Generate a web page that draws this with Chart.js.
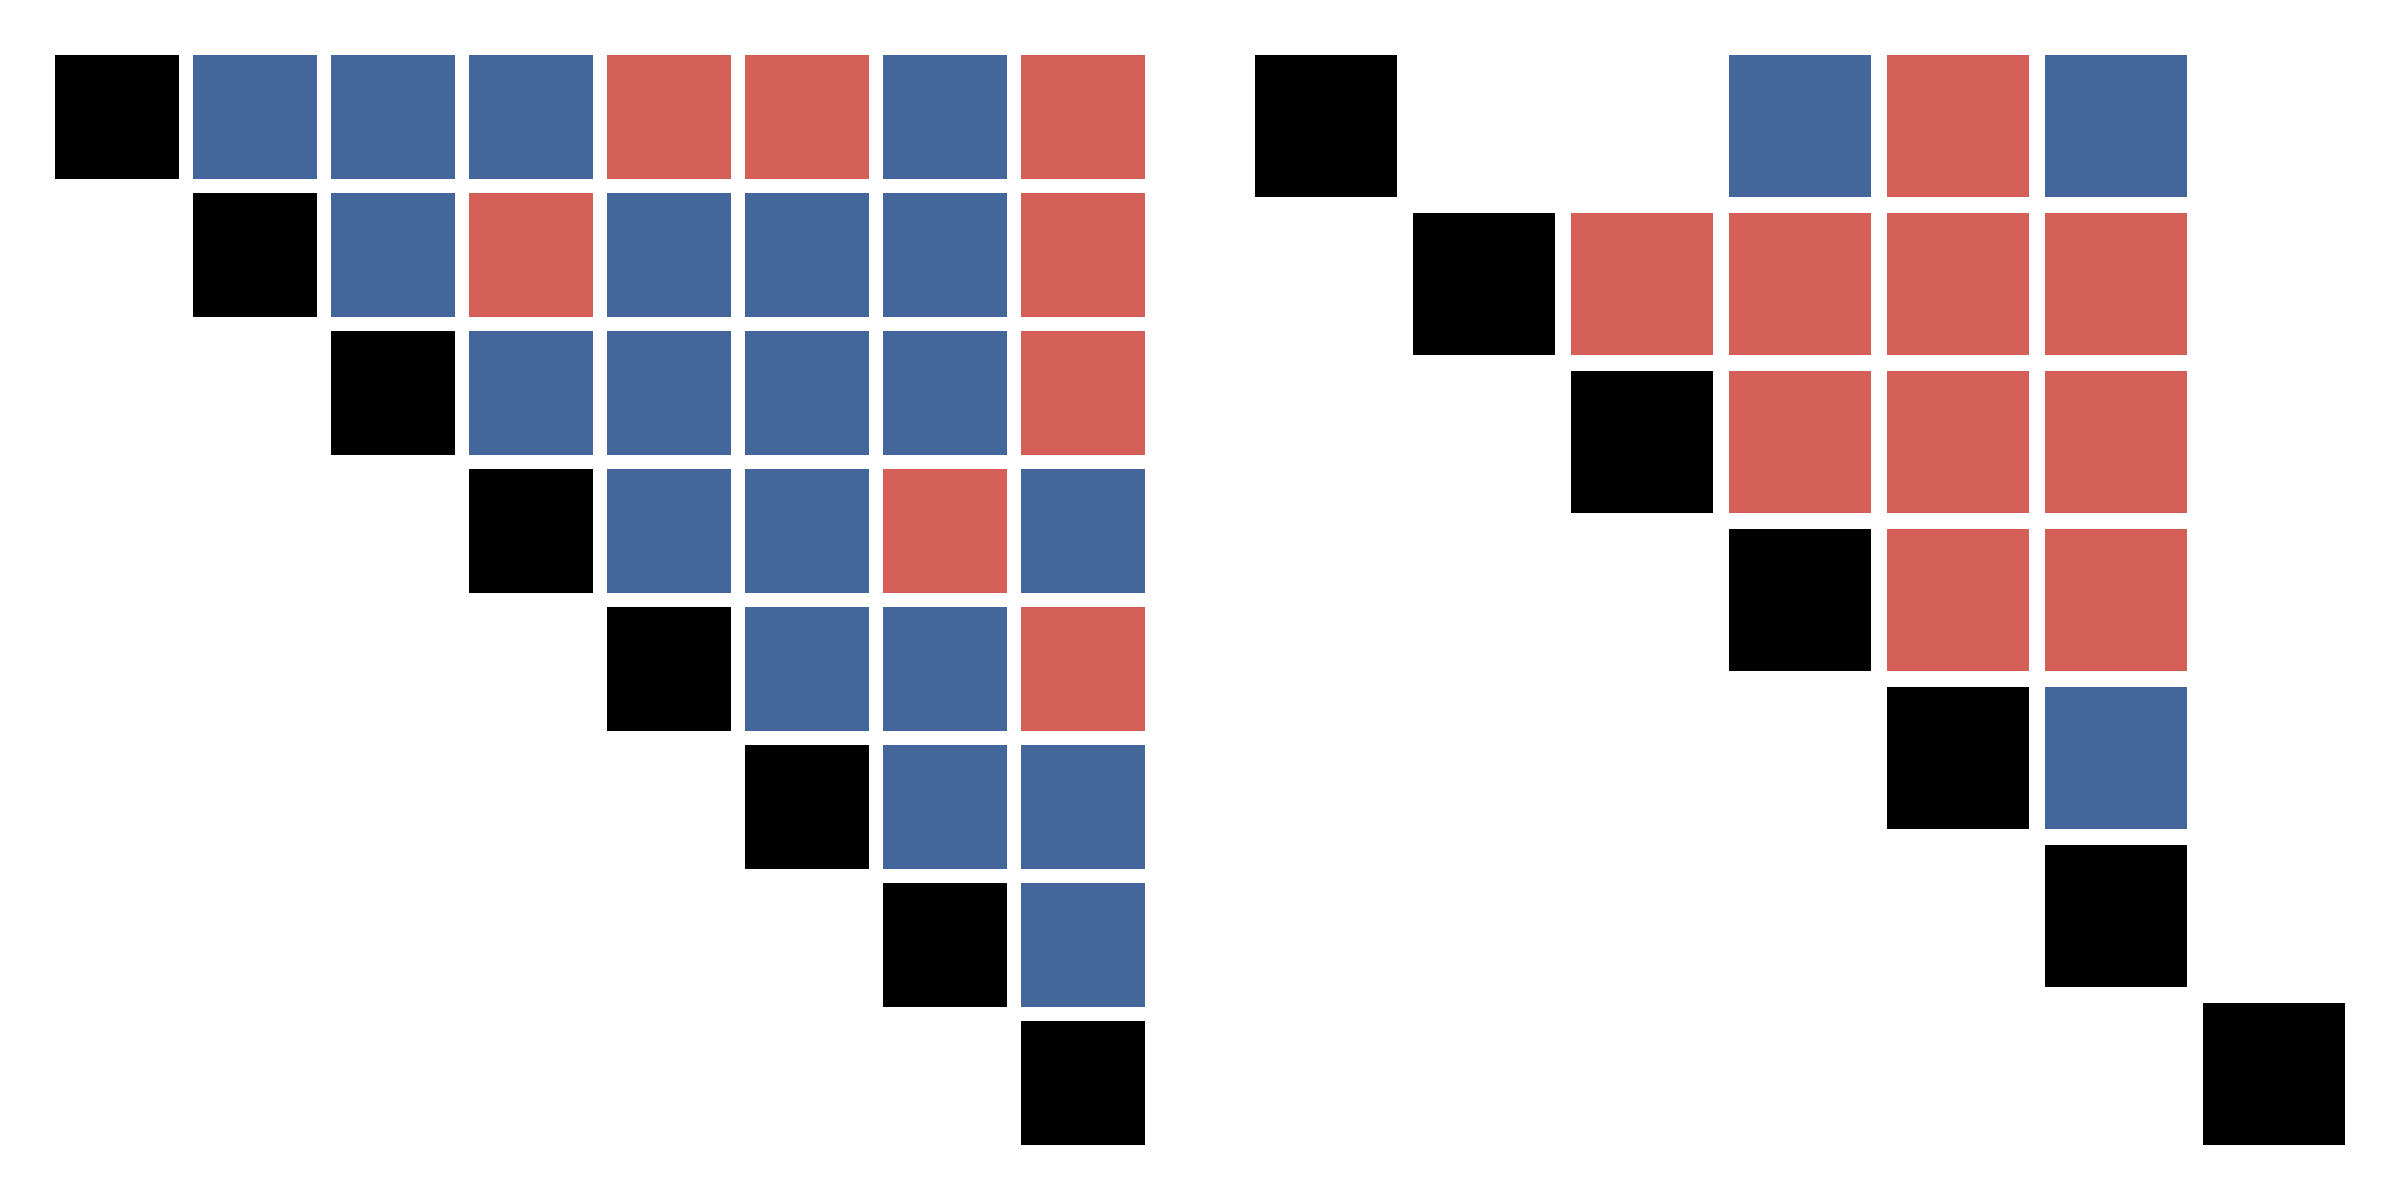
<!DOCTYPE html>
<html>
<head>
<meta charset="utf-8">
<script src="https://cdn.jsdelivr.net/npm/chart.js@4/dist/chart.umd.min.js"></script>
<style>
  html, body { margin: 0; padding: 0; background: #ffffff; }
  body { width: 2400px; height: 1200px; position: relative; overflow: hidden; }
  .panel { position: absolute; }
  #p1 { left: 48px; top: 48px; width: 1104px; height: 1104px; }
  #p2 { left: 1247px; top: 47px; width: 1106px; height: 1106px; }
</style>
</head>
<body>
<div class="panel" id="p1"><canvas id="c1"></canvas></div>
<div class="panel" id="p2"><canvas id="c2"></canvas></div>
<script>
// D = diagonal, B = blue, R = red, '-' = empty
const leftMatrix = [
  "DBBBRRBR",
  "-DBRBBBR",
  "--DBBBBR",
  "---DBBRB",
  "----DBBR",
  "-----DBB",
  "------DB",
  "-------D"
];
const rightMatrix = [
  "D--BRB-",
  "-DRRRR-",
  "--DRRR-",
  "---DRR-",
  "----DB-",
  "-----D-",
  "------D"
];
const cellColors = { D: "#000000", B: "#44679b", R: "#d35f57" };
const cellFill = 0.9;

function buildDatasets(matrix) {
  const datasets = [];
  for (const code of Object.keys(cellColors)) {
    const pts = [];
    matrix.forEach((row, r) => {
      [...row].forEach((ch, c) => {
        if (ch === code) pts.push({ x: c, y: r });
      });
    });
    datasets.push({
      label: code,
      data: pts,
      pointStyle: "rect",
      backgroundColor: cellColors[code],
      borderWidth: 0,
      pointRadius: (ctx) => {
        const s = ctx.chart.scales.x;
        const pitch = Math.abs(s.getPixelForValue(1) - s.getPixelForValue(0));
        return Math.round(pitch * cellFill) / Math.SQRT2;
      },
      pointHoverRadius: (ctx) => {
        const s = ctx.chart.scales.x;
        const pitch = Math.abs(s.getPixelForValue(1) - s.getPixelForValue(0));
        return Math.round(pitch * cellFill) / Math.SQRT2;
      },
      clip: false
    });
  }
  return datasets;
}

function makeChart(id, matrix) {
  const n = matrix.length;
  new Chart(document.getElementById(id), {
    type: "scatter",
    data: { datasets: buildDatasets(matrix) },
    options: {
      responsive: true,
      maintainAspectRatio: false,
      animation: false,
      events: [],
      layout: { padding: 0 },
      plugins: { legend: { display: false }, tooltip: { enabled: false } },
      scales: {
        x: { type: "linear", min: -0.5, max: n - 0.5, display: false },
        y: { type: "linear", min: -0.5, max: n - 0.5, reverse: true, display: false }
      }
    }
  });
}

makeChart("c1", leftMatrix);
makeChart("c2", rightMatrix);
</script>
</body>
</html>
